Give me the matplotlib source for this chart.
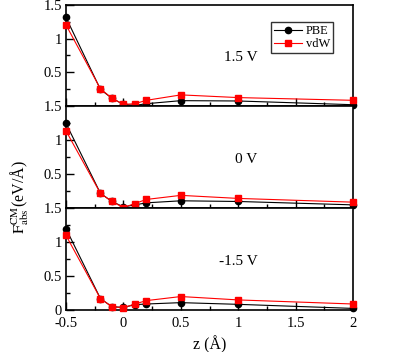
import numpy as np
import matplotlib
matplotlib.use("Agg")
import matplotlib.pyplot as plt
from matplotlib.ticker import MultipleLocator, FuncFormatter

plt.rcParams['font.family'] = ['Liberation Serif', 'DejaVu Serif']
plt.rcParams['mathtext.fontset'] = 'stix'

# distance from surface (Angstrom)
z = [-0.5, -0.2, -0.1, 0.0, 0.1, 0.2, 0.5, 1.0, 2.0]

# force values per bias
pbe_p15 = [1.31, 0.25, 0.12, 0.03, 0.015, 0.04, 0.085, 0.08, 0.025]
vdw_p15 = [1.20, 0.26, 0.12, 0.03, 0.04, 0.09, 0.17, 0.13, 0.09]
pbe_0 = [1.25, 0.22, 0.10, 0.02, 0.05, 0.08, 0.11, 0.10, 0.05]
vdw_0 = [1.14, 0.22, 0.10, 0.01, 0.07, 0.13, 0.19, 0.145, 0.09]
pbe_m15 = [1.20, 0.17, 0.05, 0.04, 0.08, 0.09, 0.11, 0.085, 0.025]
vdw_m15 = [1.10, 0.17, 0.05, 0.035, 0.09, 0.14, 0.20, 0.15, 0.09]

panel_labels = ['1.5 V', '0 V', '-1.5 V']
pbe_sets = [pbe_p15, pbe_0, pbe_m15]
vdw_sets = [vdw_p15, vdw_0, vdw_m15]

fig = plt.figure(figsize=(4.15, 3.52), dpi=100)
left, right = 0.159, 0.851
top, bottom = 0.987, 0.119
h = (top - bottom) / 3

axes = []
for i in range(3):
    ax = fig.add_axes([left, top - (i + 1) * h, right - left, h])
    axes.append(ax)
    ax.plot(z, pbe_sets[i], color='black', lw=0.8, marker='o', ms=4.5,
            label='PBE', clip_on=False, zorder=3)
    ax.plot(z, vdw_sets[i], color='red', lw=0.8, marker='s', ms=4.5,
            label='vdW', clip_on=False, zorder=4)
    ax.set_xlim(-0.5, 2)
    ax.set_ylim(0, 1.5)
    ax.xaxis.set_major_locator(MultipleLocator(0.5))
    ax.xaxis.set_minor_locator(MultipleLocator(0.25))
    ax.yaxis.set_major_locator(MultipleLocator(0.5))
    ax.yaxis.set_minor_locator(MultipleLocator(0.25))
    ax.tick_params(which='both', direction='in', top=False, right=False,
                   labelsize=10.5, width=1.0)
    ax.tick_params(which='major', length=5.5)
    ax.tick_params(which='minor', length=3)
    ax.tick_params(axis='y', pad=3)
    ax.tick_params(axis='x', pad=5)
    for sp in ax.spines.values():
        sp.set_linewidth(1.2)
    ax.text(0.667, 0.72, panel_labels[i], transform=ax.get_yaxis_transform(),
            ha='right', va='center', fontsize=11)
    if i < 2:
        ax.yaxis.set_major_formatter(FuncFormatter(
            lambda v, p: '' if abs(v) < 1e-9 else ('%g' % v)))
        ax.tick_params(labelbottom=False)
    else:
        ax.yaxis.set_major_formatter(FuncFormatter(lambda v, p: '%g' % v))
        ax.xaxis.set_major_formatter(FuncFormatter(lambda v, p: '%g' % v))

leg = axes[0].legend(loc='upper right', bbox_to_anchor=(0.93, 0.83),
                     fontsize=9, frameon=True, fancybox=False,
                     handlelength=2.2, borderpad=0.25, labelspacing=0.1,
                     handletextpad=0.3, borderaxespad=0)
leg.get_frame().set_edgecolor('black')
leg.get_frame().set_linewidth(1.0)

axes[2].set_xlabel('z (Å)', fontsize=11.5, labelpad=4)
fig.text(0.048, 0.44, r'$\mathrm{F_{abs}^{CM}}$(eV/Å)', rotation=90,
         ha='center', va='center', fontsize=11.5)

fig.savefig('out.png', dpi=100)
